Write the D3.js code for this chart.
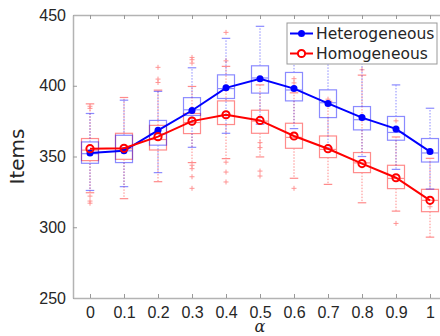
<!DOCTYPE html>
<html>
<head>
<meta charset="utf-8">
<script src="https://cdn.jsdelivr.net/npm/d3@7"></script>
<style>
  body { margin: 0; background: #fff; }
  svg { display: block; font-family: "DejaVu Sans", sans-serif; }
</style>
</head>
<body>
<div id="chart"></div>
<script>
// alpha values on the x axis
const alphas = [0, 0.1, 0.2, 0.3, 0.4, 0.5, 0.6, 0.7, 0.8, 0.9, 1];
const xTickLabels = ["0", "0.1", "0.2", "0.3", "0.4", "0.5", "0.6", "0.7", "0.8", "0.9", "1"];
const yTicks = [250, 300, 350, 400, 450];

// Heterogeneous (blue)
const hetMean = [352.5, 354, 368.5, 382.5, 398.5, 405, 398, 387.5, 377.5, 369.5, 353.5];
const hetMed  = [352, 354, 366, 383, 398, 405.5, 397, 388, 376, 367, 352.5];
const hetQ1   = [345.2, 345.7, 358, 379, 391, 394.8, 389.3, 377.5, 368.8, 361.5, 346.1];
const hetQ3   = [360.3, 365, 375.5, 391.6, 407.7, 414.1, 409.4, 397.1, 385.3, 378.3, 362.7];
const hetLo   = [326, 328.7, 338.6, 356.5, 366.4, 372.8, 369.7, 356, 350, 340.9, 327];
const hetHi   = [380.4, 389.8, 396, 412.7, 433.5, 442, 432, 424, 420, 400.6, 384.1];
const hetOut  = [[], [], [], [], [], [], [], [], [], [], []];

// Homogeneous (red)
const homMean = [355.5, 355.8, 364, 375, 379.5, 375.5, 364.5, 355.5, 345, 335, 319];
const homMed  = [354.5, 355.5, 362, 374, 379, 375, 363.5, 355, 345.5, 334.5, 319];
const homQ1   = [347.1, 348, 354.6, 366.2, 372.6, 366.4, 355.8, 349.2, 338.6, 327.3, 311];
const homQ3   = [362.7, 366.4, 372, 380.4, 389.3, 382.7, 373.5, 364.5, 352.8, 343.8, 326.8];
const homLo   = [324.4, 320.2, 332.2, 345.7, 348.5, 349.7, 334.6, 330.3, 317.3, 311.4, 293];
const homHi   = [387.2, 391.7, 396.9, 399.5, 413.7, 400.6, 395, 389, 407.5, 363.8, 348.7];
const homOut  = [
  [385.5, 384, 322, 318.5, 317],
  [],
  [413, 404.7, 402.3],
  [420, 418.4, 416, 343.8, 341.4, 335.7, 327.5],
  [437.7, 417.6, 346, 339, 332],
  [359.8, 356.3, 339.7, 336.2],
  [405, 402, 327.5],
  [390.5],
  [411.3],
  [375.2, 302.7],
  [314.5]
];

const width = 440, height = 336;
const axisColor = "#b3b3b3";

const svg = d3.select("#chart").append("svg")
    .attr("width", width)
    .attr("height", height);

const x = d3.scaleLinear().domain([-0.05, 1.05]).range([73, 447]);
const y = d3.scaleLinear().domain([250, 450]).range([298, 15]);

// axes
const styleAxis = g => {
  g.select(".domain").attr("stroke", axisColor).attr("stroke-width", 1.5);
  g.selectAll(".tick line").attr("stroke", "#999");
  g.selectAll(".tick text").attr("fill", "#262626").attr("font-size", 16);
};

svg.append("g")
    .attr("transform", "translate(73,0)")
    .call(d3.axisLeft(y).tickValues(yTicks).tickSize(-4).tickPadding(7).tickSizeOuter(0))
    .call(styleAxis);

svg.append("g")
    .attr("transform", "translate(0,298)")
    .call(d3.axisBottom(x).tickValues(alphas).tickFormat((d, i) => xTickLabels[i])
      .tickSize(-4).tickPadding(9).tickSizeOuter(0))
    .call(styleAxis);

svg.append("g")
    .attr("transform", "translate(0,15)")
    .call(d3.axisTop(x).tickValues(alphas).tickFormat("").tickSize(-4).tickSizeOuter(0))
    .call(styleAxis);

// axis titles
svg.append("text")
    .attr("transform", `translate(24,${(15 + 298) / 2}) rotate(-90)`)
    .attr("text-anchor", "middle")
    .attr("font-size", 20)
    .attr("fill", "#262626")
    .text("Items");

svg.append("text")
    .attr("x", x(0.5))
    .attr("y", 332)
    .attr("text-anchor", "middle")
    .attr("font-family", "DejaVu Serif")
    .attr("font-style", "italic")
    .attr("font-size", 16)
    .attr("fill", "#262626")
    .text("α");

// boxplots
const boxW = 17, capW = 8.5;

function drawBoxes(q1, med, q3, lo, hi, outs, color) {
  const g = svg.append("g").attr("opacity", 0.45);
  alphas.forEach((a, i) => {
    const cx = x(a);
    // whiskers
    g.append("line").attr("x1", cx).attr("x2", cx).attr("y1", y(q3[i])).attr("y2", y(hi[i]))
      .attr("stroke", color).attr("stroke-dasharray", "1.5,1.5");
    g.append("line").attr("x1", cx).attr("x2", cx).attr("y1", y(q1[i])).attr("y2", y(lo[i]))
      .attr("stroke", color).attr("stroke-dasharray", "1.5,1.5");
    [lo[i], hi[i]].forEach(v => {
      g.append("line").attr("x1", cx - capW / 2).attr("x2", cx + capW / 2)
        .attr("y1", y(v)).attr("y2", y(v)).attr("stroke", color).attr("stroke-width", 1.2);
    });
    // box
    g.append("rect")
      .attr("x", cx - boxW / 2).attr("width", boxW)
      .attr("y", y(q3[i])).attr("height", y(q1[i]) - y(q3[i]))
      .attr("fill", "none").attr("stroke", color).attr("stroke-width", 1.2);
    g.append("line").attr("x1", cx - boxW / 2).attr("x2", cx + boxW / 2)
      .attr("y1", y(med[i])).attr("y2", y(med[i])).attr("stroke", color).attr("stroke-width", 1.2);
    // outliers
    outs[i].forEach(v => {
      g.append("path")
        .attr("d", `M${cx - 2.5},${y(v)}h5M${cx},${y(v) - 2.5}v5`)
        .attr("stroke", color).attr("stroke-width", 0.9);
    });
  });
}

drawBoxes(homQ1, homMed, homQ3, homLo, homHi, homOut, "#ff0000");
drawBoxes(hetQ1, hetMed, hetQ3, hetLo, hetHi, hetOut, "#0000ff");

// mean lines
const line = vals => d3.line().x((d, i) => x(alphas[i])).y(d => y(d))(vals);

svg.append("path").attr("d", line(hetMean))
    .attr("fill", "none").attr("stroke", "#0000ff").attr("stroke-width", 2);
svg.append("g").selectAll("circle").data(hetMean).join("circle")
    .attr("cx", (d, i) => x(alphas[i])).attr("cy", d => y(d)).attr("r", 3.5)
    .attr("fill", "#0000ff");

svg.append("path").attr("d", line(homMean))
    .attr("fill", "none").attr("stroke", "#ff0000").attr("stroke-width", 2);
svg.append("g").selectAll("circle").data(homMean).join("circle")
    .attr("cx", (d, i) => x(alphas[i])).attr("cy", d => y(d)).attr("r", 3.6)
    .attr("fill", "none").attr("stroke", "#ff0000").attr("stroke-width", 2);

// legend
const legend = svg.append("g").attr("transform", "translate(287,23)");
legend.append("rect").attr("width", 150).attr("height", 41)
    .attr("fill", "#fff").attr("stroke", "#999").attr("stroke-width", 1);

const legendItems = [
  {name: "Heterogeneous", color: "#0000ff", filled: true},
  {name: "Homogeneous", color: "#ff0000", filled: false}
];

legendItems.forEach((d, i) => {
  const ly = 10.5 + i * 20;
  legend.append("line").attr("x1", 3).attr("x2", 26).attr("y1", ly).attr("y2", ly)
    .attr("stroke", d.color).attr("stroke-width", 2);
  legend.append("circle").attr("cx", 14.5).attr("cy", ly).attr("r", d.filled ? 3.5 : 3.6)
    .attr("fill", d.filled ? d.color : "#fff")
    .attr("stroke", d.filled ? "none" : d.color).attr("stroke-width", 2);
  legend.append("text").attr("x", 29).attr("y", ly).attr("dy", "0.35em")
    .attr("font-size", 15.5).attr("fill", "#262626").text(d.name);
});
</script>
</body>
</html>
